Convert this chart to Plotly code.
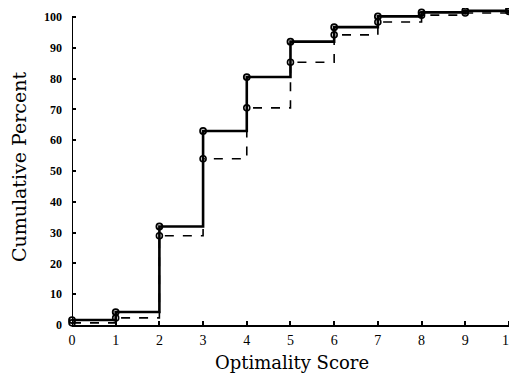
import plotly.graph_objects as go

scores = [0, 1, 2, 3, 4, 5, 6, 7, 8, 9, 10]
solid_pct = [1.6, 4.2, 32, 63, 80.5, 92, 96.7, 100.2, 101.5, 102.0, 102.4]
dashed_pct = [0.7, 2.3, 29, 54, 70.5, 85.3, 94.2, 98.4, 100.6, 101.3, 101.8]
x_ticks = [0, 1, 2, 3, 4, 5, 6, 7, 8, 9, 10]
y_ticks = [0, 10, 20, 30, 40, 50, 60, 70, 80, 90, 100]

fig = go.Figure()
fig.add_trace(go.Scatter(
    x=scores, y=dashed_pct, mode="lines+markers", line_shape="hv",
    line=dict(color="black", width=1.6, dash="dash"),
    marker=dict(symbol="circle-open", size=6, color="black", line=dict(width=1.6)),
    cliponaxis=False, showlegend=False))
fig.add_trace(go.Scatter(
    x=scores, y=solid_pct, mode="lines+markers", line_shape="hv",
    line=dict(color="black", width=2.6),
    marker=dict(symbol="circle-open", size=6, color="black", line=dict(width=1.8)),
    cliponaxis=False, showlegend=False))

# y axis line only up to 100
fig.add_shape(type="line", xref="x", yref="y", x0=0, x1=0, y0=0, y1=y_ticks[-1],
              line=dict(color="black", width=2))

fig.update_layout(
    width=509, height=371,
    margin=dict(l=64, r=2, t=1, b=54),
    paper_bgcolor="white", plot_bgcolor="white",
    font=dict(family="DejaVu Serif", color="black"),
)
fig.update_xaxes(
    range=[0, 10.07], tickvals=x_ticks, ticktext=[str(v) for v in x_ticks],
    showgrid=False, zeroline=False, showline=True, linecolor="black", linewidth=1.8,
    ticks="inside", ticklen=4, tickwidth=1.5, tickcolor="black",
    ticklabeloverflow="allow", ticklabelstandoff=1,
    tickfont=dict(family="Liberation Serif", size=14, color="black"),
    title=dict(text="Optimality Score", font=dict(family="DejaVu Serif", size=18), standoff=10),
)
fig.update_yaxes(
    range=[0, 102.6], tickvals=y_ticks, ticktext=[str(v) for v in y_ticks],
    showgrid=False, zeroline=False, showline=False,
    ticks="inside", ticklen=4, tickwidth=1.5, tickcolor="black",
    ticklabelstandoff=9,
    tickfont=dict(family="Liberation Serif", size=12, color="black", weight="bold"),
    title=dict(text="Cumulative Percent", font=dict(family="DejaVu Serif", size=19), standoff=14),
)

fig.write_html("out.html")
